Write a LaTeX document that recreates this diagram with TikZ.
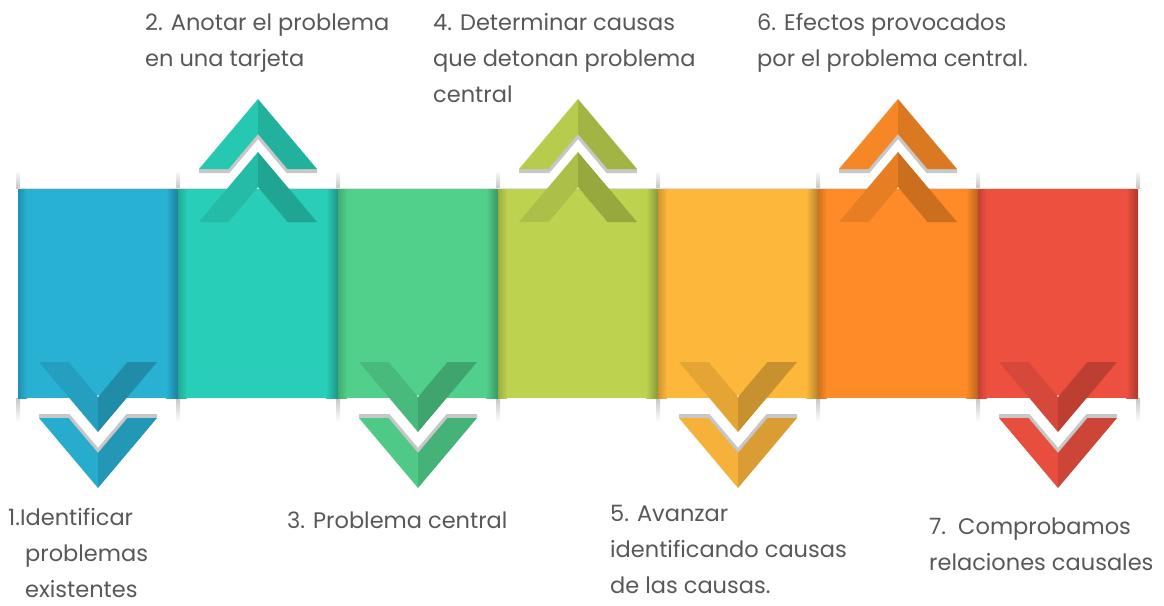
\documentclass[tikz,border=0pt]{standalone}
\usepackage{fontspec}
\setmainfont{Poppins}
\definecolor{s1}{HTML}{29B1D4}
\definecolor{s2}{HTML}{28CEB7}
\definecolor{s3}{HTML}{50D08A}
\definecolor{s4}{HTML}{BDD24F}
\definecolor{s5}{HTML}{FDB73B}
\definecolor{s6}{HTML}{FE8B27}
\definecolor{s7}{HTML}{EE5040}
\definecolor{txtgray}{HTML}{585858}
\tikzset{
  lbl/.style={anchor=base west, align=left, text=txtgray, inner sep=0pt,
    font=\fontsize{22.5}{36}\selectfont},
  shadowline/.style={draw=black!22, line width=4pt, line join=miter},
}
% down chevron: centre x, top y, left colour, right colour
\newcommand\chevdown[4]{%
  \fill[#3] ({#1-59},{#2}) -- ({#1},{#2+70}) -- ({#1},{#2+35}) -- ({#1-29.5},{#2}) -- cycle;
  \fill[#4] ({#1+59},{#2}) -- ({#1},{#2+70}) -- ({#1},{#2+35}) -- ({#1+29.5},{#2}) -- cycle;
}
% up chevron: centre x, tip y, left colour, right colour
\newcommand\chevup[4]{%
  \fill[#3] ({#1},{#2}) -- ({#1-59},{#2+70}) -- ({#1-29.5},{#2+70}) -- ({#1},{#2+35}) -- cycle;
  \fill[#4] ({#1},{#2}) -- ({#1+59},{#2+70}) -- ({#1+29.5},{#2+70}) -- ({#1},{#2+35}) -- cycle;
}
\begin{document}
\begin{tikzpicture}[x=1pt,y=-1pt]
\useasboundingbox (0,0) rectangle (1164,605);
\fill[white] (0,0) rectangle (1164,605);

% faint shadows above and below the band at the segment joints
\foreach \k in {0,...,7}{
  \pgfmathsetmacro{\xx}{18+160*\k}
  \shade[top color=white, bottom color=black!22] ({\xx-2},170) rectangle ({\xx+2},188);
  \shade[top color=black!22, bottom color=white] ({\xx-2},398) rectangle ({\xx+2},422);
}

% band segments
\foreach \i/\c in {1/s1,2/s2,3/s3,4/s4,5/s5,6/s6,7/s7}{
  \pgfmathsetmacro{\xa}{18+160*(\i-1)}
  \fill[\c] (\xa,188) rectangle ({\xa+160},398);
  \shade[left color=\c!82!black, right color=\c] (\xa,188) rectangle ({\xa+9},398);
  \shade[left color=\c, right color=\c!72!black] ({\xa+148},188) rectangle ({\xa+160},398);
}
\draw[black!12, line width=0.8pt] (18,188) -- (1138,188);

% downward chevrons (segments 1,3,5,7)
\foreach \cx/\c in {98/s1,418/s3,738/s5,1058/s7}{
  \chevdown{\cx}{362}{\c!90!black}{\c!79!black}
  \draw[shadowline] ({\cx-59},{416}) -- ({\cx-29.5},{416}) -- ({\cx},{451}) -- ({\cx+29.5},{416}) -- ({\cx+59},{416});
  \chevdown{\cx}{418}{\c!97!black}{\c!86!black}
  \fill[white!70!\c] (\cx,396) circle (1.2);
}

% upward chevrons (segments 2,4,6)
\foreach \cx/\c in {258/s2,578/s4,898/s6}{
  \draw[shadowline] ({\cx-59},{171}) -- ({\cx-29.5},{171}) -- ({\cx},{136}) -- ({\cx+29.5},{171}) -- ({\cx+59},{171});
  \chevup{\cx}{99}{\c!97!black}{\c!86!black}
  \chevup{\cx}{152}{\c!91!black}{\c!80!black}
}

% labels (base anchor = baseline of the last line)
\node[lbl] (t2) at (145,66) {2. Anotar el problema\\en una tarjeta};
\node[lbl] (t4) at (433,102) {4. Determinar causas\\que detonan problema\\central};
\node[lbl] (t6) at (757,66) {6. Efectos provocados\\por el problema central.};
\node[lbl] (t1) at (8,597) {1.Identificar\\\hspace*{17pt}problemas\\\hspace*{17pt}existentes};
\node[lbl] (t3) at (287,528) {3. Problema central};
\node[lbl] (t5) at (610,593) {5. Avanzar\\identificando causas\\de las causas.};
\node[lbl] (t7) at (929,570) {7.\ \ Comprobamos\\relaciones causales};
\end{tikzpicture}
\end{document}
